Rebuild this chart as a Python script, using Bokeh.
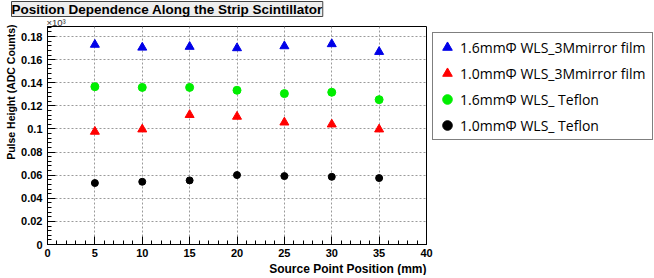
from bokeh.plotting import figure
from bokeh.models import (Range1d, SingleIntervalTicker, Title, Legend, LegendItem,
                          CustomJSTickFormatter)
from bokeh.embed import file_html
from bokeh.resources import INLINE

positions = [5, 10, 15, 20, 25, 30, 35]
blue_16_mirror = [0.173, 0.1705, 0.1712, 0.1700, 0.1717, 0.1735, 0.1668]
red_10_mirror = [0.0977, 0.0997, 0.1122, 0.1107, 0.1057, 0.1040, 0.0997]
green_16_teflon = [0.1366, 0.1360, 0.1360, 0.1335, 0.1306, 0.1318, 0.1254]
black_10_teflon = [0.0532, 0.0543, 0.0555, 0.0601, 0.0592, 0.0586, 0.0575]

labels = ["1.6mm\u03a6 WLS_3Mmirror film", "1.0mm\u03a6 WLS_3Mmirror film",
          "1.6mm\u03a6 WLS_ Teflon", "1.0mm\u03a6 WLS_ Teflon"]

title_text = "Position Dependence Along the Strip Scintillator"
x_title = "Source Point Position (mm)"
y_title = "Pulse Height (ADC Counts)"

p = figure(frame_width=379, frame_height=218, output_backend="svg", toolbar_location=None, title=None,
           x_range=Range1d(0, 40), y_range=Range1d(0, 0.1887),
           min_border_left=40, min_border_right=0, min_border_top=0, min_border_bottom=0)
p.outline_line_color = "black"
p.outline_line_width = 1
p.background_fill_color = "white"
p.border_fill_color = "white"

p.xaxis.ticker = SingleIntervalTicker(interval=5, num_minor_ticks=5)
p.yaxis.ticker = SingleIntervalTicker(interval=0.02, num_minor_ticks=5)
p.yaxis.formatter = CustomJSTickFormatter(code="return tick < 1e-9 ? '0' : String(+tick.toFixed(2));")

for ax in (p.xaxis[0], p.yaxis[0]):
    ax.axis_line_color = "black"
    ax.major_tick_in = 8
    ax.major_tick_out = 0
    ax.minor_tick_in = 4
    ax.minor_tick_out = 0
    ax.major_tick_line_color = "black"
    ax.minor_tick_line_color = "black"
    ax.major_label_text_font = "Liberation Sans"
    ax.major_label_text_font_style = "bold"
    ax.major_label_text_font_size = "11px"
    ax.major_label_text_color = "black"
    ax.major_label_standoff = 4
p.yaxis.major_label_standoff = 5

p.grid.grid_line_color = "#9a9a9a"
p.grid.grid_line_dash = "2 2"
p.grid.grid_line_width = 1

r1 = p.scatter(positions, blue_16_mirror, marker="triangle", size=9, color="#0000e8")
r2 = p.scatter(positions, red_10_mirror, marker="triangle", size=9, color="#ff0000")
r3 = p.scatter(positions, green_16_teflon, marker="circle", size=8, color="#00ee00")
r4 = p.scatter(positions, black_10_teflon, marker="circle", size=7, color="black")

legend = Legend(items=[LegendItem(label=labels[0], renderers=[r1]),
                       LegendItem(label=labels[1], renderers=[r2]),
                       LegendItem(label=labels[2], renderers=[r3]),
                       LegendItem(label=labels[3], renderers=[r4])],
                location="top_left")
legend.label_text_font = "Open Sans"
legend.label_text_font_size = "14px"
legend.label_text_color = "black"
legend.glyph_width = 24
legend.glyph_height = 24
legend.label_height = 24
legend.label_width = 190
legend.spacing = 2
legend.padding = 2
legend.margin = 6
legend.label_standoff = 1
legend.border_line_color = "black"
legend.border_line_width = 1
legend.background_fill_alpha = 1
p.add_layout(legend, "right")

exp_title = Title(text="\u00d710\u00b3", align="left", offset=-1, standoff=-2,
                  text_font="Liberation Sans", text_font_size="9.5px",
                  text_font_style="normal", text_color="#333333")
p.add_layout(exp_title, "above")

main_title = Title(text=title_text, align="left", offset=-36, standoff=-2,
                   text_font="Liberation Sans", text_font_style="bold", text_font_size="13.5px",
                   text_color="black", background_fill_color="#eeeeee",
                   border_line_color="#444444")
p.add_layout(main_title, "above")

xlab = Title(text=x_title, align="right", offset=0, standoff=0,
             text_font="Liberation Sans", text_font_style="bold", text_font_size="12px",
             text_color="black")
p.add_layout(xlab, "below")

ylab = Title(text=y_title, align="right", offset=-2, standoff=4,
             text_font="Liberation Sans", text_font_style="bold", text_font_size="10.5px",
             text_color="black")
p.add_layout(ylab, "left")

open("out.html", "w").write(file_html(p, INLINE))
